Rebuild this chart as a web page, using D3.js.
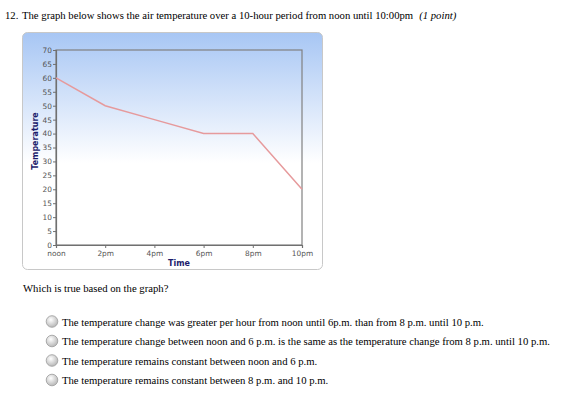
<!DOCTYPE html>
<html><head><meta charset="utf-8">
<script src="https://cdn.jsdelivr.net/npm/d3@7"></script>
<style>body{margin:0;background:#fff;}</style>
</head><body>
<script>
const timeLabels = ["noon","2pm","4pm","6pm","8pm","10pm"];
const hours = [0,2,4,6,8,10];
const temps = [60,50,45,40,40,20];
const yTicks = [0,5,10,15,20,25,30,35,40,45,50,55,60,65,70];
const choices = [
 "The temperature change was greater per hour from noon until 6p.m. than from 8 p.m. until 10 p.m.",
 "The temperature change between noon and 6 p.m. is the same as the temperature change from 8 p.m. until 10 p.m.",
 "The temperature remains constant between noon and 6 p.m.",
 "The temperature remains constant between 8 p.m. and 10 p.m."
];

const W=568,H=405;
const svg=d3.select("body").append("svg").attr("width",W).attr("height",H);
const defs=svg.append("defs");
const g1=defs.append("linearGradient").attr("id","bg").attr("x1",0).attr("y1",0).attr("x2",0).attr("y2",1);
g1.append("stop").attr("offset","0%").attr("stop-color","#a7c6f4");
g1.append("stop").attr("offset","55%").attr("stop-color","#ffffff");
g1.append("stop").attr("offset","100%").attr("stop-color","#ffffff");
const rg=defs.append("radialGradient").attr("id","radio").attr("cx","40%").attr("cy","35%").attr("r","65%");
rg.append("stop").attr("offset","0%").attr("stop-color","#ffffff");
rg.append("stop").attr("offset","100%").attr("stop-color","#b8b8b8");

const serif="'Liberation Serif','Times New Roman',serif";
const sans="'DejaVu Sans',Verdana,sans-serif";
const fs=10.7;

svg.append("text").attr("x",5).attr("y",19).attr("font-family",serif).attr("font-size",fs).text("12.");
const t=svg.append("text").attr("x",22).attr("y",19).attr("font-family",serif).attr("font-size",fs).attr("fill","#000");
t.append("tspan").text("The graph below shows the air temperature over a 10-hour period from noon until 10:00pm");
t.append("tspan").attr("dx",6).attr("font-style","italic").text("(1 point)");

svg.append("rect").attr("x",22.5).attr("y",32.5).attr("width",300).attr("height",237).attr("rx",5)
 .attr("fill","url(#bg)").attr("stroke","#c8c8c8").attr("stroke-width",1);

const x=d3.scaleLinear().domain([0,10]).range([56,302]);
const y=d3.scaleLinear().domain([0,70]).range([245,50]);

svg.append("rect").attr("x",56).attr("y",50).attr("width",246).attr("height",195).attr("fill","none").attr("stroke","#808080").attr("stroke-width",1.2);

const yAxis=svg.append("g").attr("transform","translate(56,0)")
 .call(d3.axisLeft(y).tickValues(yTicks).tickSize(3).tickPadding(1));
const xAxis=svg.append("g").attr("transform","translate(0,245)")
 .call(d3.axisBottom(x).tickValues(hours).tickFormat((d,i)=>timeLabels[i]).tickSize(3).tickPadding(2.5));
[yAxis,xAxis].forEach(a=>{
 a.select(".domain").attr("stroke","#707070").attr("stroke-width",1.2);
 a.selectAll(".tick line").attr("stroke","#707070");
 a.selectAll("text").attr("font-family",sans).attr("font-size",7.4).attr("fill","#555");
});

svg.append("path").datum(hours.map((h,i)=>[h,temps[i]]))
 .attr("d",d3.line().x(d=>x(d[0])).y(d=>y(d[1])))
 .attr("fill","none").attr("stroke","#e69a9c").attr("stroke-width",1.5);

svg.append("text").attr("transform","translate(38,141) rotate(-90)").attr("text-anchor","middle")
 .attr("font-family",sans).attr("font-size",8).attr("font-weight","bold").attr("fill","#1c1c6c").text("Temperature");
svg.append("text").attr("x",179).attr("y",266).attr("text-anchor","middle")
 .attr("font-family",sans).attr("font-size",8).attr("font-weight","bold").attr("fill","#1c1c6c").text("Time");

svg.append("text").attr("x",23).attr("y",292).attr("font-family",serif).attr("font-size",fs).attr("fill","#000")
 .text("Which is true based on the graph?");

const cy=[321.5,341,360.5,380];
choices.forEach((c,i)=>{
 svg.append("circle").attr("cx",52).attr("cy",cy[i]).attr("r",5.8).attr("fill","url(#radio)").attr("stroke","#9a9a9a").attr("stroke-width",0.8);
 svg.append("text").attr("x",62).attr("y",cy[i]+4).attr("font-family",serif).attr("font-size",fs).attr("fill","#000").text(c);
});
</script>
</body></html>
